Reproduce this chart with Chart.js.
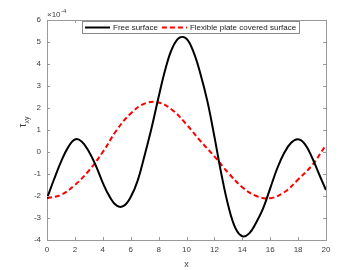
<!DOCTYPE html>
<html>
<head>
<meta charset="utf-8">
<script src="https://cdn.jsdelivr.net/npm/chart.js@4/dist/chart.umd.min.js"></script>
<style>
    html, body { margin: 0; padding: 0; background: #fff; }
    #wrap { width: 360px; height: 270px; }
</style>
</head>
<body>
<div id="wrap"><canvas id="c" width="360" height="270"></canvas></div>
<script>
(function () {
    'use strict';

    // ── 資料（讀自原圖，單位 ×10^-4）────────────────────────
    var freeX  = [0, 0.5, 1, 1.5, 2, 2.5, 3, 3.5, 4, 4.5, 5, 5.5, 6, 6.5, 7, 7.5, 8, 8.5, 9, 9.5, 10, 10.5, 11, 11.5, 12, 12.5, 13, 13.5, 14, 14.5, 15, 15.5, 16, 16.5, 17, 17.5, 18, 18.5, 19, 19.5, 20];
    var freeY  = [-2.1, -1.25, -0.45, 0.2, 0.57, 0.47, 0.02, -0.62, -1.4, -2.04, -2.44, -2.45, -2.05, -1.3, -0.15, 1.1, 2.5, 3.8, 4.75, 5.2, 5.15, 4.55, 3.55, 2.3, 0.7, -1.0, -2.45, -3.45, -3.83, -3.7, -3.2, -2.55, -1.65, -0.75, -0.05, 0.42, 0.58, 0.35, -0.25, -1.0, -1.73];

    var plateX = [0, 1, 2, 3, 4, 5, 6, 7, 8, 9, 10, 11, 12, 13, 14, 15, 16, 17, 18, 19, 20];
    var plateY = [-2.1, -1.95, -1.5, -0.85, 0.0, 1.0, 1.75, 2.2, 2.25, 1.9, 1.25, 0.5, -0.2, -0.95, -1.6, -2.0, -2.1, -1.83, -1.25, -0.6, 0.32];

    var seriesNames = ['Free surface', 'Flexible plate covered surface'];
    var xTickValues = [0, 2, 4, 6, 8, 10, 12, 14, 16, 18, 20];
    var yTickValues = [-4, -3, -2, -1, 0, 1, 2, 3, 4, 5, 6];

    var FONT = '"Liberation Sans", Arial, sans-serif';
    var TEXT = '#404040';
    var AXIS = '#9a9a9a';

    function toPoints(xs, ys) {
        return xs.map(function (x, i) { return { x: x, y: ys[i] }; });
    }

    function setTicks(values) {
        return function (scale) {
            scale.ticks = values.map(function (v) { return { value: v }; });
        };
    }

    // ── 內向刻度、上/右框線、圖例、座標標示 ─────────────────
    var matlabAxes = {
        id: 'matlabAxes',
        afterDraw: function (chart) {
            var ctx = chart.ctx;
            var a = chart.chartArea;
            var sx = chart.scales.x, sy = chart.scales.y;
            var TL = 3;

            ctx.save();
            ctx.strokeStyle = AXIS;
            ctx.lineWidth = 1;
            ctx.beginPath();
            ctx.moveTo(a.left, a.top + 0.5);
            ctx.lineTo(a.right + 0.5, a.top + 0.5);
            ctx.lineTo(a.right + 0.5, a.bottom);
            xTickValues.forEach(function (v) {
                var px = Math.round(sx.getPixelForValue(v)) + 0.5;
                ctx.moveTo(px, a.bottom);
                ctx.lineTo(px, a.bottom - TL);
                ctx.moveTo(px, a.top);
                ctx.lineTo(px, a.top + TL);
            });
            yTickValues.forEach(function (v) {
                var py = Math.round(sy.getPixelForValue(v)) + 0.5;
                ctx.moveTo(a.left, py);
                ctx.lineTo(a.left + TL, py);
                ctx.moveTo(a.right, py);
                ctx.lineTo(a.right - TL, py);
            });
            ctx.stroke();

            // 圖例（手繪，框在圖區頂端）
            var LW = 25, GAP = 3, SEP = 4, PAD = 3;
            ctx.font = '8px ' + FONT;
            var widths = seriesNames.map(function (n) { return ctx.measureText(n).width; });
            var total = PAD + LW + GAP + widths[0] + SEP + LW + GAP + widths[1] + PAD;
            var bx = Math.round((a.left + a.right) / 2 + 4 - total / 2);
            var by = Math.round(a.top) + 1, bh = 12;
            ctx.fillStyle = '#fff';
            ctx.fillRect(bx, by, total, bh);
            ctx.strokeStyle = '#8a8a8a';
            ctx.strokeRect(bx + 0.5, by + 0.5, Math.round(total), bh);

            var cy = by + bh / 2 + 0.5;
            var cx = bx + PAD;
            chart.data.datasets.forEach(function (ds, i) {
                ctx.strokeStyle = ds.borderColor;
                ctx.lineWidth = ds.borderWidth;
                ctx.setLineDash(ds.borderDash || []);
                ctx.beginPath();
                ctx.moveTo(cx, cy);
                ctx.lineTo(cx + LW, cy);
                ctx.stroke();
                ctx.setLineDash([]);
                ctx.fillStyle = '#222';
                ctx.textAlign = 'left';
                ctx.textBaseline = 'middle';
                ctx.fillText(ds.label, cx + LW + GAP, cy);
                cx += LW + GAP + widths[i] + SEP;
            });

            // ×10^-4
            ctx.fillStyle = TEXT;
            ctx.textBaseline = 'alphabetic';
            ctx.textAlign = 'left';
            ctx.font = '8px ' + FONT;
            ctx.fillText('\u00d710', a.left, a.top - 3);
            var w = ctx.measureText('\u00d710').width;
            ctx.font = '6px ' + FONT;
            ctx.fillText('-4', a.left + w + 0.5, a.top - 7);

            // τxy
            ctx.translate(26, (a.top + a.bottom) / 2 - 8);
            ctx.rotate(-Math.PI / 2);
            ctx.font = '10px ' + FONT;
            var wt = ctx.measureText('\u03c4').width;
            ctx.font = '7px ' + FONT;
            var ws = ctx.measureText('xy').width;
            var x0 = -(wt + ws) / 2;
            ctx.font = '10px ' + FONT;
            ctx.fillText('\u03c4', x0, 0);
            ctx.font = '7px ' + FONT;
            ctx.fillText('xy', x0 + wt, 3);
            ctx.restore();
        }
    };

    new Chart(document.getElementById('c').getContext('2d'), {
        type: 'line',
        data: {
            datasets: [{
                label: seriesNames[0],
                data: toPoints(freeX, freeY),
                borderColor: '#000000',
                borderWidth: 2,
                pointRadius: 0,
                tension: 0.4
            }, {
                label: seriesNames[1],
                data: toPoints(plateX, plateY),
                borderColor: '#ff0000',
                borderWidth: 2,
                borderDash: [5, 3],
                pointRadius: 0,
                tension: 0.4
            }]
        },
        options: {
            responsive: false,
            animation: false,
            layout: { padding: { left: 0, top: 20, right: 34, bottom: 0 } },
            plugins: {
                tooltip: { enabled: false },
                legend: { display: false }
            },
            scales: {
                x: {
                    type: 'linear',
                    min: 0, max: 20,
                    afterBuildTicks: setTicks(xTickValues),
                    afterFit: function (s) { s.height = 30; },
                    grid: { display: false, drawTicks: false },
                    border: { color: AXIS },
                    ticks: { color: TEXT, padding: 5, font: { size: 8, family: FONT }, maxRotation: 0 },
                    title: { display: true, text: 'x', color: TEXT, padding: { top: 1, bottom: 0 }, font: { size: 9, family: FONT } }
                },
                y: {
                    type: 'linear',
                    min: -4, max: 6,
                    afterBuildTicks: setTicks(yTickValues),
                    afterFit: function (s) { s.width = 47; },
                    grid: { display: false, drawTicks: false },
                    border: { color: AXIS },
                    ticks: { color: TEXT, padding: 6, font: { size: 8, family: FONT } }
                }
            }
        },
        plugins: [matlabAxes]
    });
})();
</script>
</body>
</html>
